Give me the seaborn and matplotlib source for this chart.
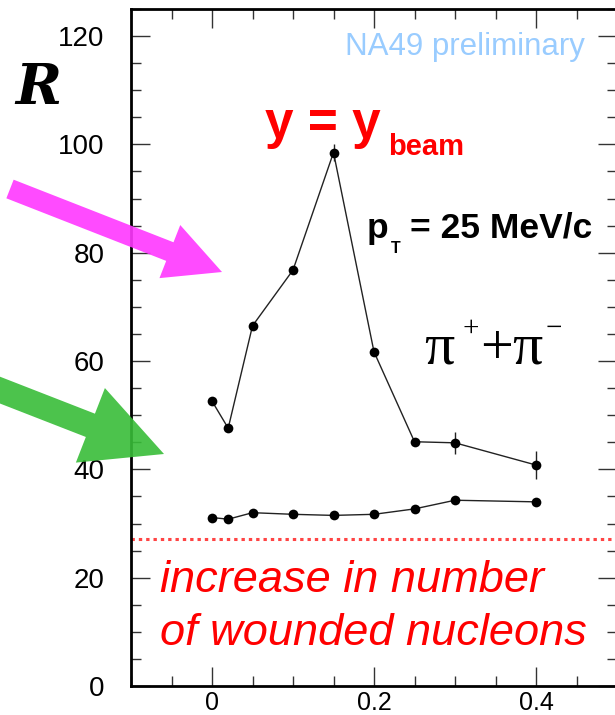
import matplotlib
matplotlib.use("Agg")
import matplotlib.pyplot as plt
from matplotlib.patches import FancyArrow
from matplotlib.transforms import IdentityTransform
from matplotlib.ticker import MultipleLocator
import seaborn as sns
import pandas as pd

# ---- data ----
x_vals = [0.0, 0.02, 0.05, 0.1, 0.15, 0.2, 0.25, 0.3, 0.4]
upper_R = [52.6, 47.6, 66.5, 76.8, 98.5, 61.7, 45.1, 44.9, 40.8]
upper_err = [0.6, 0.6, 0.6, 0.6, 1.5, 0.6, 0.6, 2.0, 2.5]
lower_R = [31.1, 30.8, 32.0, 31.7, 31.5, 31.7, 32.7, 34.3, 34.0]
lower_err = [0.4, 0.4, 0.4, 0.4, 0.4, 0.4, 0.4, 0.5, 0.5]
baseline_R = 27.1
x_ticks = [0.0, 0.2, 0.4]
x_ticklabels = ["0", "0.2", "0.4"]
y_ticks = [0, 20, 40, 60, 80, 100, 120]

W, H = 615, 715
sns.set_style("ticks")
plt.rcParams["font.family"] = ["Liberation Sans", "DejaVu Sans"]
plt.rcParams["text.color"] = "black"

fig = plt.figure(figsize=(W / 100, H / 100), dpi=100)
ax = fig.add_axes([131 / W, (H - 686) / H, (617 - 131) / W, (686 - 9) / H])

df_up = pd.DataFrame({"x": x_vals, "R": upper_R})
df_lo = pd.DataFrame({"x": x_vals, "R": lower_R})
for d, e in ((df_up, upper_err), (df_lo, lower_err)):
    ax.errorbar(d["x"], d["R"], yerr=e, fmt="none", ecolor="#222222", elinewidth=1.0, capsize=0, zorder=2)
    sns.lineplot(data=d, x="x", y="R", ax=ax, sort=False, color="#222222", linewidth=1.0,
                 marker="o", markersize=7, markeredgewidth=0, markerfacecolor="black", zorder=3)

ax.axhline(baseline_R, color="#ff4444", linewidth=2.2, dashes=(1.1, 1.3), zorder=1)

ax.set_xlim(-0.1, 0.5)
ax.set_ylim(0, 125)
ax.set_xticks(x_ticks)
ax.set_xticklabels(x_ticklabels)
ax.set_yticks(y_ticks)
ax.xaxis.set_minor_locator(MultipleLocator(0.05))
ax.yaxis.set_minor_locator(MultipleLocator(5))
ax.set_xlabel("")
ax.set_ylabel("")
ax.tick_params(which="both", direction="in", top=True, right=True, color="#333333", width=1.0,
               labelsize=20, labelcolor="black")
ax.tick_params(which="major", length=14)
ax.tick_params(which="minor", length=7.5)
ax.tick_params(axis="y", which="major", pad=19)
ax.tick_params(axis="x", which="major", pad=3.5, labelsize=18)
for s in ax.spines.values():
    s.set_linewidth(2.0)
    s.set_color("black")


def fx(x):
    return x / W


def fy(y):
    return 1 - y / H


# texts
fig.text(fx(15), fy(104), "R", fontsize=40, fontweight="bold", fontstyle="italic",
         family="DejaVu Serif", color="black", va="baseline", ha="left")
fig.text(fx(345), fy(55), "NA49 preliminary", fontsize=22.5, color="#99ccff", va="baseline", ha="left")
fig.text(fx(265), fy(138), "y = y", fontsize=37, fontweight="bold", color="red", va="baseline", ha="left")
fig.text(fx(388), fy(155), "beam", fontsize=21, fontweight="bold", color="red", va="baseline", ha="left")
fig.text(fx(367), fy(238), "p", fontsize=25.5, fontweight="bold", color="black", va="baseline", ha="left")
fig.text(fx(391), fy(253), "T", fontsize=11.5, fontweight="bold", color="black", va="baseline", ha="left")
fig.text(fx(410), fy(238), "= 25 MeV/c", fontsize=25.5, fontweight="bold", color="black", va="baseline", ha="left")

serif = "Liberation Serif"
fig.text(fx(424), fy(364), "π", fontsize=43, family=serif, color="black", va="baseline", ha="left")
fig.text(fx(463), fy(336), "+", fontsize=21, family=serif, color="black", va="baseline", ha="left")
fig.text(fx(480), fy(364), "+", fontsize=42, family=serif, color="black", va="baseline", ha="left")
fig.text(fx(512), fy(364), "π", fontsize=43, family=serif, color="black", va="baseline", ha="left")
fig.text(fx(546), fy(336), "−", fontsize=21, family=serif, color="black", va="baseline", ha="left")

fig.text(fx(160), fy(592), "increase in number", fontsize=32.5, fontstyle="italic", color="red",
         va="baseline", ha="left")
fig.text(fx(160), fy(645), "of wounded nucleons", fontsize=32.5, fontstyle="italic", color="red",
         va="baseline", ha="left")

# arrows in pixel coordinates (origin bottom-left)
a1 = FancyArrow(10, H - 189, 212, -83, width=20, head_width=57, head_length=56,
                length_includes_head=True, color="#ff37ff", alpha=0.9, linewidth=0,
                transform=IdentityTransform())
a2 = FancyArrow(-8, H - 387, 172, -67, width=25, head_width=80, head_length=79,
                length_includes_head=True, color="#38bd38", alpha=0.9, linewidth=0,
                transform=IdentityTransform())
for a in (a1, a2):
    a.set_clip_on(False)
    fig.add_artist(a)

fig.savefig("out.png", dpi=100)
